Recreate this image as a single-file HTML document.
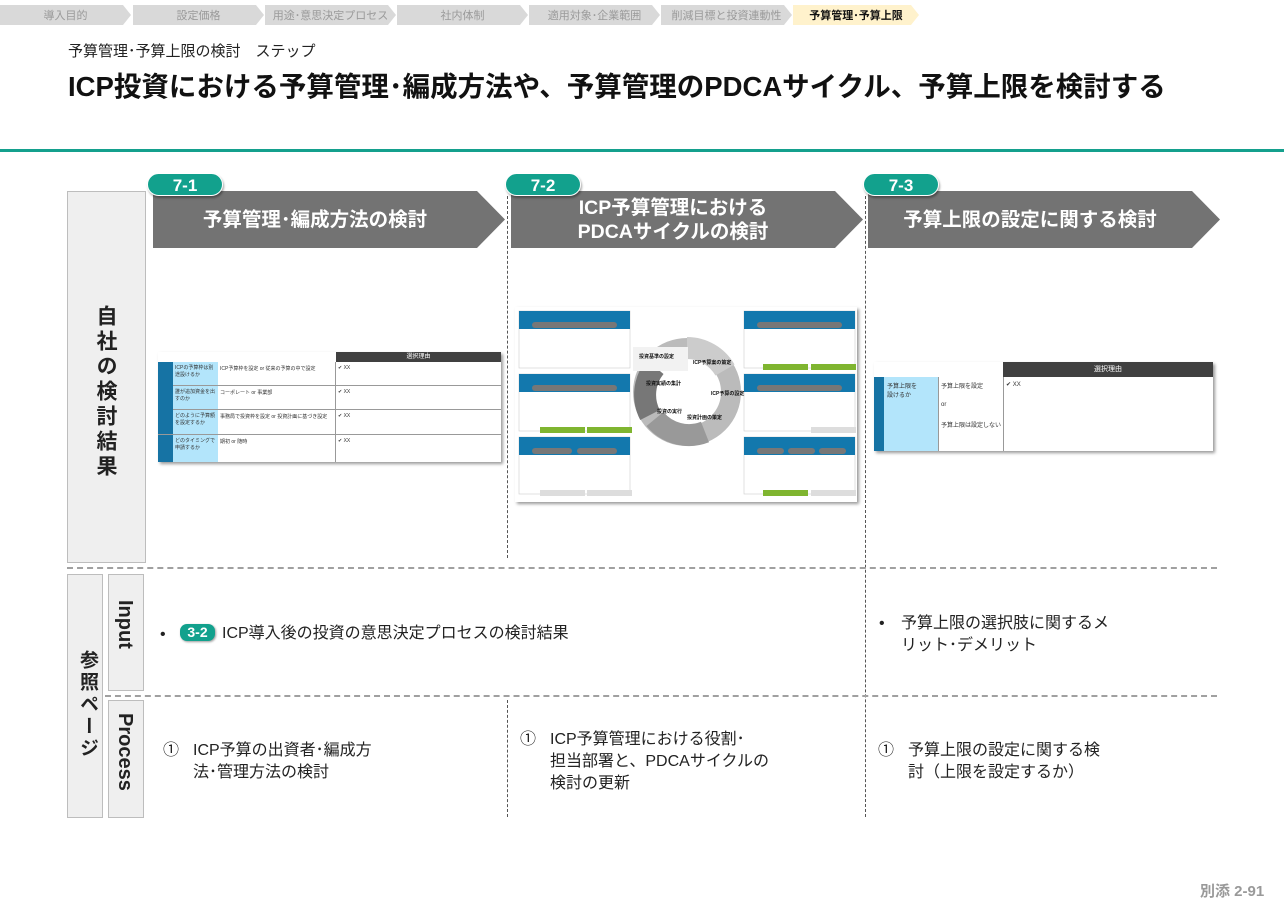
<!DOCTYPE html>
<html><head><meta charset="utf-8">
<style>
*{margin:0;padding:0;box-sizing:border-box}
body{width:1284px;height:907px;background:#fff;position:relative;overflow:hidden;font-family:"Liberation Sans","Noto Sans CJK JP",sans-serif;color:#111}
.a{position:absolute}
.bc{position:absolute;top:5px;height:20px;font-size:11px;color:#9a9a9a;display:flex;align-items:center;justify-content:center;clip-path:polygon(0 0,calc(100% - 8px) 0,100% 50%,calc(100% - 8px) 100%,0 100%);background:#d9d9d9}
.hdr{position:absolute;top:191px;height:57px;background:#737373;color:#fff;font-weight:bold;font-size:19.5px;display:flex;align-items:center;justify-content:center;text-align:center;line-height:24px;clip-path:polygon(0 0,calc(100% - 28px) 0,100% 50%,calc(100% - 28px) 100%,0 100%);padding-right:28px}
.badge{position:absolute;top:173px;width:76px;height:23px;background:#12a18d;color:#fff;font-weight:bold;font-size:17px;border-radius:12px;text-align:center;line-height:23px;box-shadow:1px 2px 2px rgba(0,0,0,.35);border:1px solid #fff}
.vd{position:absolute;border-left:1px dashed #555;width:0}
.hd{position:absolute;border-top:2px dashed #a0a0a0;height:0}
.gbox{position:absolute;background:#efefef;border:1px solid #bdbdbd}
.vt{writing-mode:vertical-rl;font-weight:bold;color:#222}
.t{position:absolute;font-size:16px;line-height:22px;color:#222}
.mini{font-size:5px;color:#333}
</style></head><body>
<div class="bc" style="left:0;width:131px">導入目的</div>
<div class="bc" style="left:133px;width:131px">設定価格</div>
<div class="bc" style="left:265px;width:131px">用途･意思決定プロセス</div>
<div class="bc" style="left:397px;width:131px">社内体制</div>
<div class="bc" style="left:529px;width:131px">適用対象･企業範囲</div>
<div class="bc" style="left:661px;width:131px">削減目標と投資連動性</div>
<div class="bc" style="left:793px;width:126px;background:#fff2cc;color:#111;font-weight:bold">予算管理･予算上限</div>

<div class="a" style="left:68px;top:40px;font-size:15px;color:#222">予算管理･予算上限の検討　ステップ</div>
<div class="a" style="left:68px;top:64px;font-size:27.5px;font-weight:bold;color:#111;white-space:nowrap">ICP投資における予算管理･編成方法や、予算管理のPDCAサイクル、予算上限を検討する</div>
<div class="a" style="left:0;top:149px;width:1284px;height:3px;background:#14a08d"></div>

<div class="gbox" style="left:67px;top:191px;width:79px;height:372px"></div>
<div class="a vt" style="left:90px;top:305px;font-size:21px;letter-spacing:4px">自社の検討結果</div>

<div class="hdr" style="left:153px;width:352px">予算管理･編成方法の検討</div>
<div class="hdr" style="left:511px;width:352px">ICP予算管理における<br>PDCAサイクルの検討</div>
<div class="hdr" style="left:868px;width:352px">予算上限の設定に関する検討</div>
<div class="badge" style="left:147px">7-1</div>
<div class="badge" style="left:505px">7-2</div>
<div class="badge" style="left:863px">7-3</div>

<div class="vd" style="left:507px;top:196px;height:362px"></div>
<div class="vd" style="left:865px;top:196px;height:621px"></div>
<div class="vd" style="left:507px;top:700px;height:117px"></div>
<div class="hd" style="left:67px;top:567px;width:1150px"></div>
<div class="hd" style="left:105px;top:695px;width:1112px"></div>

<!-- 7-1 table -->
<div class="a" style="left:158px;top:352px;width:343px;height:110px;box-shadow:2px 2px 3px rgba(0,0,0,.4);background:#fff">
 <div class="a" style="left:178px;top:0;width:165px;height:10px;background:#404040;color:#fff;font-size:6px;text-align:center;line-height:10px">選択理由</div>
 <div class="a" style="left:0;top:10px;width:15px;height:100px;background:#1673a4"></div>
 <div class="a" style="left:15px;top:10px;width:45px;height:100px;background:#b3e5fb"></div>
 <div class="a mini" style="left:17px;top:12px;width:43px">ICPの予算枠は別途設けるか</div>
 <div class="a mini" style="left:17px;top:36px;width:43px">誰が追加資金を出すのか</div>
 <div class="a mini" style="left:17px;top:60px;width:43px">どのように予算額を設定するか</div>
 <div class="a mini" style="left:17px;top:85px;width:43px">どのタイミングで申請するか</div>
 <div class="a mini" style="left:62px;top:13px">ICP予算枠を設定 or 従来の予算の中で設定</div>
 <div class="a mini" style="left:62px;top:37px">コーポレート or 事業部</div>
 <div class="a mini" style="left:62px;top:61px">事務局で投資枠を設定 or 投資計画に基づき設定</div>
 <div class="a mini" style="left:62px;top:86px">期初 or 随時</div>
 <div class="a mini" style="left:180px;top:13px">✔ XX</div><div class="a mini" style="left:180px;top:37px">✔ XX</div><div class="a mini" style="left:180px;top:61px">✔ XX</div><div class="a mini" style="left:180px;top:86px">✔ XX</div>
 <div class="a" style="left:15px;top:33px;width:328px;border-top:1px solid #999"></div>
 <div class="a" style="left:15px;top:57px;width:328px;border-top:1px solid #999"></div>
 <div class="a" style="left:0;top:82px;width:343px;border-top:1px solid #999"></div>
 <div class="a" style="left:177px;top:10px;height:100px;border-left:1px solid #999"></div>
</div>

<!-- 7-2 PDCA -->
<div class="a" style="left:515px;top:307px;width:342px;height:195px;background:#fff;box-shadow:2px 2px 3px rgba(0,0,0,.4)">
 <svg width="342" height="195" style="position:absolute;left:0;top:0">
  <g fill="#fff" stroke="#ccc" stroke-width="0.6">
   <rect x="4" y="4" width="111" height="57"/><rect x="4" y="67" width="111" height="57"/><rect x="4" y="130" width="111" height="57"/>
   <rect x="229" y="4" width="111" height="57"/><rect x="229" y="67" width="111" height="57"/><rect x="229" y="130" width="111" height="57"/>
  </g>
  <g fill="#1378ad">
   <rect x="4" y="4" width="111" height="18"/><rect x="4" y="67" width="111" height="18"/><rect x="4" y="130" width="111" height="18"/>
   <rect x="229" y="4" width="111" height="18"/><rect x="229" y="67" width="111" height="18"/><rect x="229" y="130" width="111" height="18"/>
  </g>
  <g fill="#777"><rect x="17" y="15" width="85" height="6" rx="3"/><rect x="17" y="78" width="85" height="6" rx="3"/><rect x="17" y="141" width="40" height="6" rx="3"/><rect x="62" y="141" width="40" height="6" rx="3"/>
   <rect x="242" y="15" width="85" height="6" rx="3"/><rect x="242" y="78" width="85" height="6" rx="3"/><rect x="242" y="141" width="27" height="6" rx="3"/><rect x="273" y="141" width="27" height="6" rx="3"/><rect x="304" y="141" width="27" height="6" rx="3"/></g>
  <g fill="#7fb530"><rect x="248" y="57" width="45" height="6"/><rect x="296" y="57" width="45" height="6"/><rect x="25" y="120" width="45" height="6"/><rect x="72" y="120" width="45" height="6"/><rect x="248" y="183" width="45" height="6"/></g>
  <g fill="#ddd"><rect x="25" y="183" width="45" height="6"/><rect x="72" y="183" width="45" height="6"/><rect x="296" y="183" width="45" height="6"/><rect x="296" y="120" width="45" height="6"/></g>
  <circle cx="172" cy="85" r="44" fill="none" stroke="#bbb" stroke-width="20"/>
  <path d="M172 41 A44 44 0 0 1 210 63" stroke="#ccc" stroke-width="22" fill="none"/>
  <path d="M135 108 A44 44 0 0 1 140 60" stroke="#777" stroke-width="22" fill="none"/>
  <path d="M190 125 A44 44 0 0 1 140 112" stroke="#999" stroke-width="22" fill="none"/>
  <rect x="118" y="40" width="55" height="24" fill="#f2f2f2"/>
  <g font-size="5" fill="#111" font-weight="bold"><text x="124" y="51">投資基準の設定</text><text x="178" y="57">ICP予算案の策定</text><text x="196" y="88">ICP予算の設定</text><text x="172" y="112">投資計画の策定</text><text x="142" y="106">投資の実行</text><text x="131" y="78">投資実績の集計</text></g>
 </svg>
</div>

<!-- 7-3 table -->
<div class="a" style="left:874px;top:362px;width:339px;height:89px;box-shadow:2px 2px 3px rgba(0,0,0,.4);background:#fff">
 <div class="a" style="left:129px;top:0;width:210px;height:15px;background:#404040;color:#fff;font-size:7px;text-align:center;line-height:15px">選択理由</div>
 <div class="a" style="left:0;top:15px;width:10px;height:74px;background:#1673a4"></div>
 <div class="a" style="left:10px;top:15px;width:55px;height:74px;background:#b3e5fb;border-right:1px solid #999"></div>
 <div class="a mini" style="left:13px;top:19px;font-size:6px">予算上限を<br>設けるか</div>
 <div class="a mini" style="left:67px;top:19px;font-size:6px">予算上限を設定<br><br><br>or<br><br><br>予算上限は設定しない</div>
 <div class="a mini" style="left:132px;top:19px;font-size:6px">✔ XX</div>
 <div class="a" style="left:129px;top:15px;height:74px;border-left:1px solid #999"></div>
</div>

<!-- reference -->
<div class="gbox" style="left:67px;top:574px;width:36px;height:244px"></div>
<div class="a vt" style="left:74px;top:650px;font-size:19px;letter-spacing:3px">参照ページ</div>
<div class="gbox" style="left:108px;top:574px;width:36px;height:117px"></div>
<div class="a vt" style="left:113px;top:600px;font-size:20px">Input</div>
<div class="gbox" style="left:108px;top:700px;width:36px;height:118px"></div>
<div class="a vt" style="left:113px;top:713px;font-size:20px">Process</div>

<div class="t" style="left:160px;top:624px">•</div>
<div class="a" style="left:180px;top:624px;width:35px;height:17px;background:#12a18d;color:#fff;font-weight:bold;font-size:14px;line-height:17px;text-align:center;border-radius:7px;box-shadow:1px 1px 2px rgba(0,0,0,.4)">3-2</div>
<div class="t" style="left:222px;top:623px">ICP導入後の投資の意思決定プロセスの検討結果</div>
<div class="t" style="left:879px;top:613px">•</div>
<div class="t" style="left:901px;top:613px;width:230px">予算上限の選択肢に関するメ<br>リット･デメリット</div>

<div class="t" style="left:163px;top:740px">①</div>
<div class="t" style="left:193px;top:740px">ICP予算の出資者･編成方<br>法･管理方法の検討</div>
<div class="t" style="left:520px;top:729px">①</div>
<div class="t" style="left:550px;top:729px">ICP予算管理における役割･<br>担当部署と、PDCAサイクルの<br>検討の更新</div>
<div class="t" style="left:878px;top:740px">①</div>
<div class="t" style="left:908px;top:740px">予算上限の設定に関する検<br>討（上限を設定するか）</div>

<div class="a" style="left:1200px;top:880px;font-size:15px;font-weight:bold;color:#999">別添 2-91</div>
</body></html>
